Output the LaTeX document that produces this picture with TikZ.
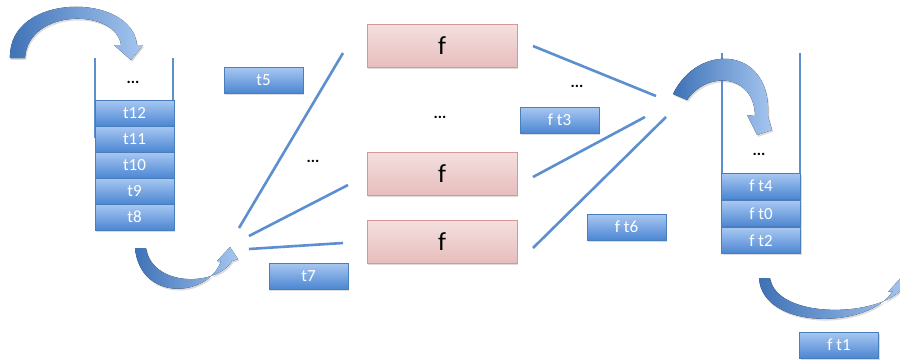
\documentclass[tikz,border=0pt]{standalone}
\usepackage{fontspec}
\setmainfont{Carlito}
\usetikzlibrary{shadows}
\definecolor{btop}{HTML}{A8C8F2}
\definecolor{bbot}{HTML}{4C86D2}
\definecolor{bline}{HTML}{4A7EBB}
\definecolor{ptop}{HTML}{F3E0DF}
\definecolor{pbot}{HTML}{E7BDBC}
\definecolor{pline}{HTML}{D99694}
\definecolor{wire}{HTML}{5B8FCF}
\definecolor{adark}{HTML}{3E72B6}
\definecolor{alight}{HTML}{A5C6F0}
\tikzset{
  softshadow/.style={drop shadow={opacity=0.28, shadow xshift=1.2pt, shadow yshift=-1.8pt}},
  tbox/.style={draw=bline, line width=0.8pt, top color=btop, bottom color=bbot,
    minimum width=79pt, minimum height=26pt, inner sep=0pt, text=white,
    font=\fontsize{17}{17}\selectfont, softshadow},
  fbox/.style={draw=pline, line width=0.8pt, top color=ptop, bottom color=pbot,
    minimum width=150pt, minimum height=43pt, inner sep=0pt, text=black,
    font=\fontsize{26}{26}\selectfont, softshadow},
  dots/.style={font=\fontsize{16}{16}\selectfont\bfseries, inner sep=0pt},
  wall/.style={draw=wire, line width=1.2pt},
  link/.style={draw=wire, line width=2.6pt},
  curvearrow/.style={left color=adark, right color=alight, draw=none, softshadow},
}
\newcommand{\tlab}[1]{\raisebox{-4pt}{#1}}
\begin{document}
\begin{tikzpicture}[x=1pt,y=-1pt]
\useasboundingbox (0,0) rectangle (900,362);

% ---- left stack ----
\draw[wall] (95,58) -- (95,138);
\draw[wall] (173,58) -- (173,100);
\node[dots] (ldots) at (133,82) {...};
\node[tbox] (t12) at (134.5,113) {\tlab{t12}};
\node[tbox] (t11) at (134.5,139) {\tlab{t11}};
\node[tbox] (t10) at (134.5,165) {\tlab{t10}};
\node[tbox] (t9)  at (134.5,191) {\tlab{t9}};
\node[tbox] (t8)  at (134.5,217) {\tlab{t8}};

% curved arrow feeding the left stack
\fill[curvearrow] (10,58) .. controls (8,-8) and (132,-8) .. (137,45)
  -- (143,45) -- (131,60) -- (114,45) -- (121,45)
  .. controls (116,8) and (28,8) .. (25,58) -- cycle;

% curved arrow leaving the left stack
\fill[curvearrow] (135,248) .. controls (140,302) and (208,298) .. (221,261)
  -- (217,261) -- (230,247) -- (238,259) -- (232,261)
  .. controls (216,287) and (152,287) .. (146,248) -- cycle;

% ---- dispatch ----
\coordinate (fork1) at (239,228);
\coordinate (fork2) at (249,236);
\coordinate (fork3) at (249,249);
\coordinate (in1) at (343,53);
\coordinate (in2) at (348,185);
\coordinate (in3) at (343,243);
\draw[link] (fork1) -- (in1);
\draw[link] (fork2) -- (in2);
\draw[link] (fork3) -- (in3);

\node[tbox] (t5) at (263.5,80) {\tlab{t5}};
\node[tbox] (t7) at (308.5,276) {\tlab{t7}};
\node[dots] (mdots) at (313,161) {...};

% ---- workers ----
\node[fbox] (f1) at (442,46) {f};
\node[fbox] (f2) at (442,173.5) {f};
\node[fbox] (f3) at (442,241.5) {f};
\node[dots] (fdots) at (440,117) {...};

% ---- collect ----
\coordinate (out1) at (533,46);
\coordinate (out2) at (533,177);
\coordinate (out3) at (533,248);
\coordinate (join1) at (656,96);
\coordinate (join2) at (645,117);
\coordinate (join3) at (666,117);
\draw[link] (out1) -- (join1);
\draw[link] (out2) -- (join2);
\draw[link] (out3) -- (join3);

\node[dots] (rdots) at (577,86) {...};
\node[tbox] (ft3) at (559.5,120) {\tlab{f t3}};
\node[tbox] (ft6) at (626.5,227) {\tlab{f t6}};

% ---- right stack ----
\draw[wall] (722,53) -- (722,173);
\draw[wall] (800,53) -- (800,173);
\node[dots] (sdots) at (759,154) {...};
\node[tbox] (ft4) at (761,186) {\tlab{f t4}};
\node[tbox] (ft0) at (761,213.5) {\tlab{f t0}};
\node[tbox] (ft2) at (761,240.5) {\tlab{f t2}};

% curved arrow feeding the right stack
\fill[curvearrow] (673,94) .. controls (698,42) and (772,46) .. (768,116)
  -- (772,130) -- (757,135) -- (747,115) -- (755,116)
  .. controls (754,74) and (708,70) .. (687,100) -- cycle;

% curved arrow leaving the right stack
\begin{scope}
\clip (0,0) rectangle (900,362);
\fill[curvearrow] (759,278) .. controls (762,330) and (868,330) .. (893,291)
  -- (888,292) -- (906,272) -- (908,292) -- (900,291)
  .. controls (872,318) and (776,318) .. (770,278) -- cycle;
\end{scope}

\node[tbox] (ft1) at (839,345) {\tlab{f t1}};
\end{tikzpicture}
\end{document}
